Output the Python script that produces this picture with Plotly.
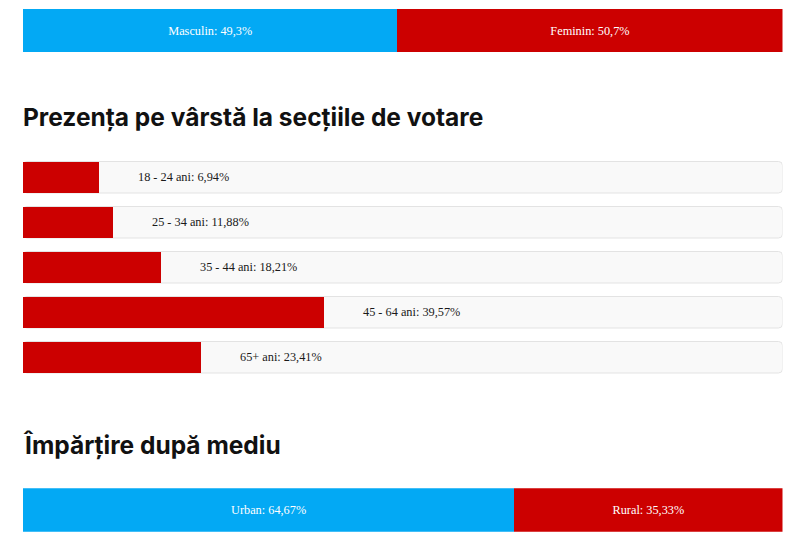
import plotly.graph_objects as go

# Values (percent).
GENDER = ["Masculin", "Feminin"]
GENDER_PCT = [49.3, 50.7]

AGE_GROUPS = ["18 - 24 ani", "25 - 34 ani", "35 - 44 ani", "45 - 64 ani", "65+ ani"]
AGE_PCT = [6.94, 11.88, 18.21, 39.57, 23.41]

AREA = ["Urban", "Rural"]
AREA_PCT = [64.67, 35.33]

TITLE_AGE = "Prezența pe vârstă la secțiile de votare"
TITLE_AREA = "Împărțire după mediu"

# the html body keeps its 8px margin, so the figure is sized to fit inside it
OFF = 8
W, H = 800 - 2 * OFF, 546 - 2 * OFF
BLUE = "#03a9f4"
RED = "#cc0000"
TRACK = "#f9f9f9"
TRACK_LINE = "#e3e3e3"
SERIF = "Liberation Serif, Times New Roman, serif"
SANS = "Inter, Roboto, sans-serif"
LABEL_SIZE = 12.3

# page is laid out in window pixels; helpers turn them into paper fractions
X0, X1 = 23, 782.5
def px(x): return (x - OFF) / W
def py(y): return 1 - (y - OFF) / H

# the original page gives the age fill a minimum width of 10%
MIN_FILL = 10


def pct(v):
    return f"{v:g}".replace(".", ",") + "%"


fig = go.Figure()

# gender split (top)
for name, v, col in zip(GENDER, GENDER_PCT, [BLUE, RED]):
    fig.add_trace(go.Bar(
        x=[v], y=["g"], orientation="h", width=1, xaxis="x", yaxis="y",
        marker=dict(color=col, line=dict(width=0)),
        text=[f"{name}: {pct(v)}"], textposition="inside", insidetextanchor="middle",
        textangle=0, textfont=dict(family=SERIF, size=LABEL_SIZE, color="white"),
        hoverinfo="skip"))

# age fills
fill = [max(v, MIN_FILL) for v in AGE_PCT]
fig.add_trace(go.Bar(
    x=fill, y=AGE_GROUPS, orientation="h", width=0.7, xaxis="x2", yaxis="y2",
    marker=dict(color=RED, line=dict(width=0)), hoverinfo="skip"))

# urban / rural (bottom)
for name, v, col in zip(AREA, AREA_PCT, [BLUE, RED]):
    fig.add_trace(go.Bar(
        x=[v], y=["m"], orientation="h", width=1, xaxis="x3", yaxis="y3",
        marker=dict(color=col, line=dict(width=0)),
        text=[f"{name}: {pct(v)}"], textposition="inside", insidetextanchor="middle",
        textangle=0, textfont=dict(family=SERIF, size=LABEL_SIZE, color="white"),
        hoverinfo="skip"))

# rounded grey tracks behind the age bars (category-unit coordinates)
BAND = 45.0
rx = 4 * 100 / (X1 - X0)
ry = 4 / BAND
half = 0.35
for i in range(len(AGE_GROUPS)):
    a, b = i - half, i + half
    path = (f"M {rx},{a} L {100 - rx},{a} Q 100,{a} 100,{a + ry} "
            f"L 100,{b - ry} Q 100,{b} {100 - rx},{b} L {rx},{b} "
            f"Q 0,{b} 0,{b - ry} L 0,{a + ry} Q 0,{a} {rx},{a} Z")
    fig.add_shape(type="path", path=path, xref="x2", yref="y2", layer="below",
                  fillcolor=TRACK, line=dict(color=TRACK_LINE, width=1))

# age labels sit just right of the fill
for g, v, f in zip(AGE_GROUPS, AGE_PCT, fill):
    fig.add_annotation(x=f, y=g, xref="x2", yref="y2", xanchor="left", xshift=37,
                       text=f"{g}: {pct(v)}", showarrow=False,
                       font=dict(family=SERIF, size=LABEL_SIZE, color="#1a1a1a"))

for t, ymid in [(TITLE_AGE, 117), (TITLE_AREA, 445)]:
    fig.add_annotation(x=px(X0) - 0.002, y=py(ymid), xref="paper", yref="paper",
                       xanchor="left", yanchor="middle", text=t, showarrow=False,
                       font=dict(family=SANS, size=24.5, color="#111", weight=700))

hidden = dict(visible=False, fixedrange=True)
xdom = [px(X0), px(X1)]
band0 = 161.5 + 15.75 - BAND / 2
fig.update_layout(
    width=W, height=H, margin=dict(l=0, r=0, t=0, b=0),
    paper_bgcolor="white", plot_bgcolor="rgba(0,0,0,0)",
    barmode="stack", showlegend=False,
    xaxis=dict(domain=xdom, range=[0, 100], **hidden),
    xaxis2=dict(domain=xdom, range=[0, 100], **hidden),
    xaxis3=dict(domain=xdom, range=[0, 100], **hidden),
    yaxis=dict(domain=[py(52.3), py(9)], type="category", anchor="x", **hidden),
    yaxis2=dict(domain=[py(band0 + BAND * len(AGE_GROUPS)), py(band0)], type="category",
                autorange="reversed", anchor="x2", **hidden),
    yaxis3=dict(domain=[py(531.7), py(488.3)], type="category", anchor="x3", **hidden),
)

fig.write_html("out.html", config={"displayModeBar": False})
